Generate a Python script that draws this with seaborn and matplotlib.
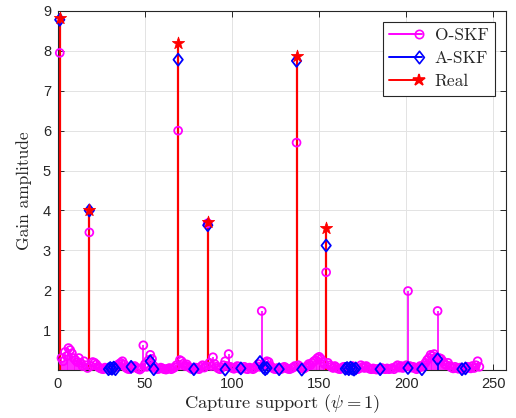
import numpy as np
import matplotlib
matplotlib.use("Agg")
import matplotlib.pyplot as plt
import seaborn as sns
from matplotlib.lines import Line2D
from matplotlib.legend_handler import HandlerBase
from matplotlib.path import Path

# ---- data -------------------------------------------------------------
# O-SKF estimate, one gain per support index (1..242)
o_skf_vals = [
    7.95, 0.30, 0.22, 0.45, 0.35, 0.55, 0.50, 0.42, 0.30, 0.25,
    0.20, 0.30, 0.18, 0.10, 0.22, 0.12, 0.05, 3.45, 0.10, 0.20,
    0.18, 0.14, 0.08, 0.05, 0.03, 0.02, 0.06, 0.04, 0.02, 0.01,
    0.03, 0.05, 0.08, 0.12, 0.15, 0.18, 0.22, 0.14, 0.06, 0.03,
    0.02, 0.04, 0.08, 0.10, 0.06, 0.03, 0.01, 0.05, 0.62, 0.15,
    0.08, 0.25, 0.38, 0.28, 0.10, 0.04, 0.02, 0.03, 0.06, 0.04,
    0.02, 0.01, 0.03, 0.05, 0.02, 0.04, 0.07, 0.12, 6.00, 0.25,
    0.22, 0.16, 0.10, 0.14, 0.08, 0.05, 0.02, 0.03, 0.06, 0.04,
    0.02, 0.08, 0.12, 0.06, 0.10, 3.68, 0.18, 0.10, 0.32, 0.15,
    0.08, 0.04, 0.02, 0.06, 0.12, 0.22, 0.10, 0.40, 0.08, 0.05,
    0.03, 0.06, 0.10, 0.04, 0.02, 0.05, 0.08, 0.03, 0.02, 0.06,
    0.04, 0.02, 0.05, 0.10, 0.15, 0.08, 1.48, 0.12, 0.18, 0.22,
    0.20, 0.10, 0.06, 0.03, 0.02, 0.05, 0.04, 0.02, 0.06, 0.08,
    0.05, 0.03, 0.02, 0.04, 0.06, 0.10, 5.70, 0.12, 0.08, 0.05,
    0.03, 0.06, 0.10, 0.15, 0.12, 0.18, 0.22, 0.25, 0.30, 0.33,
    0.28, 0.20, 0.15, 2.45, 0.18, 0.12, 0.08, 0.05, 0.10, 0.06,
    0.03, 0.02, 0.05, 0.08, 0.04, 0.02, 0.03, 0.06, 0.10, 0.05,
    0.03, 0.02, 0.04, 0.12, 0.08, 0.05, 0.10, 0.06, 0.03, 0.02,
    0.04, 0.02, 0.01, 0.03, 0.02, 0.05, 0.03, 0.02, 0.04, 0.02,
    0.03, 0.05, 0.02, 0.08, 0.12, 0.06, 0.10, 0.05, 0.08, 0.12,
    1.98, 0.10, 0.06, 0.08, 0.04, 0.02, 0.05, 0.10, 0.08, 0.12,
    0.18, 0.25, 0.30, 0.38, 0.35, 0.40, 0.32, 1.48, 0.30, 0.28,
    0.22, 0.15, 0.12, 0.18, 0.10, 0.06, 0.04, 0.08, 0.05, 0.03,
    0.06, 0.04, 0.02, 0.05, 0.08, 0.06, 0.04, 0.10, 0.05, 0.12,
    0.22, 0.08,
]
o_skf_idx = np.arange(1, len(o_skf_vals) + 1)

# A-SKF estimate on its own support set
a_skf_idx = [1, 18, 29, 30, 31, 32, 33, 42, 53, 55, 69, 78, 86, 96, 105,
             116, 118, 119, 120, 127, 137, 140, 154, 165, 166, 167, 168,
             169, 170, 171, 185, 201, 209, 218, 232, 234]
a_skf_vals = [8.78, 4.00, 0.02, 0.05, 0.03, 0.06, 0.02, 0.08, 0.22, 0.02,
              7.78, 0.02, 3.63, 0.01, 0.04, 0.20, 0.06, 0.02, 0.05, 0.02,
              7.75, 0.01, 3.12, 0.03, 0.05, 0.02, 0.06, 0.03, 0.01, 0.04,
              0.02, 0.05, 0.02, 0.27, 0.02, 0.04]

# true channel taps
real_idx = [1, 18, 69, 86, 137, 154]
real_vals = [8.82, 4.00, 8.20, 3.70, 7.88, 3.57]

x_ticks = [0, 50, 100, 150, 200, 250]
y_ticks = [1, 2, 3, 4, 5, 6, 7, 8, 9]
series_names = ["O-SKF", "A-SKF", "Real"]

# ---- style ------------------------------------------------------------
sns.set_theme(style="whitegrid")
plt.rcParams["font.family"] = ["Liberation Sans", "DejaVu Sans"]
plt.rcParams["mathtext.fontset"] = "cm"
plt.rcParams["axes.unicode_minus"] = False

MAG = "#ff00ff"
BLU = "#0000ff"
RED = "#ff0000"
AX = "#262626"
SERIF = ["cmr10", "DejaVu Serif"]

# MATLAB-like diamond (a bit taller than wide)
diamond = Path([(0, 1), (0.78, 0), (0, -1), (-0.78, 0), (0, 1)],
               [Path.MOVETO, Path.LINETO, Path.LINETO, Path.LINETO, Path.CLOSEPOLY])

fig = plt.figure(figsize=(5.16, 4.18), dpi=100)
ax = fig.add_axes([58 / 516, 48 / 418, 447.5 / 516, 359 / 418])
ax.set_facecolor("white")

# stems
ax.vlines(o_skf_idx, 0, o_skf_vals, color=MAG, lw=1.2, zorder=2)
ax.vlines(a_skf_idx, 0, a_skf_vals, color=BLU, lw=1.2, zorder=3)
ax.vlines(real_idx, 0, real_vals, color=RED, lw=1.6, zorder=4)

# stem heads
sns.scatterplot(x=o_skf_idx, y=o_skf_vals, ax=ax, marker="o", s=32,
                facecolors="none", edgecolor=MAG, linewidth=1.3,
                zorder=5, clip_on=False, legend=False)
sns.scatterplot(x=a_skf_idx, y=a_skf_vals, ax=ax, marker=diamond, s=75,
                facecolors="none", edgecolor=BLU, linewidth=1.3,
                zorder=6, clip_on=False, legend=False)
sns.scatterplot(x=real_idx, y=real_vals, ax=ax, marker="*", s=85,
                color=RED, edgecolor=RED, linewidth=0.6,
                zorder=7, clip_on=False, legend=False)

# axes
ax.set_xlim(0, 257)
ax.set_ylim(0, 9)
ax.set_xticks(x_ticks)
ax.set_yticks(y_ticks)
ax.grid(True, color="#e3e3e3", lw=0.7)
ax.set_axisbelow(True)
for sp in ax.spines.values():
    sp.set_color(AX)
    sp.set_linewidth(0.8)
    sp.set_zorder(4.5)
ax.tick_params(direction="in", length=4, width=0.7, color=AX,
               top=True, right=True, bottom=True, left=True,
               labelsize=10.5, labelcolor=AX, pad=5)

ax.set_xlabel(r"Capture support $(\psi = 1)$", family=SERIF, fontsize=13.3,
              color=AX, labelpad=1)
ax.set_ylabel("Gain amplitude", family=SERIF, fontsize=12.5, color=AX,
              labelpad=8)


# legend entries: line with the marker at its right end, like a stem
class StemHandler(HandlerBase):
    def create_artists(self, legend, orig, xdescent, ydescent, width,
                       height, fontsize, trans):
        y = height / 2 - ydescent
        line = Line2D([-xdescent, width - xdescent], [y, y],
                      color=orig.get_color(), lw=1.4)
        mk = Line2D([width - xdescent - 2], [y], marker=orig.get_marker(),
                    markersize=orig.get_markersize(),
                    markerfacecolor=orig.get_markerfacecolor(),
                    markeredgecolor=orig.get_markeredgecolor(),
                    markeredgewidth=1.2, linestyle="none")
        line.set_transform(trans)
        mk.set_transform(trans)
        return [line, mk]


handles = [
    Line2D([], [], color=MAG, marker="o", markersize=6,
           markerfacecolor="none", markeredgecolor=MAG),
    Line2D([], [], color=BLU, marker=diamond, markersize=9,
           markerfacecolor="none", markeredgecolor=BLU),
    Line2D([], [], color=RED, marker="*", markersize=9,
           markerfacecolor=RED, markeredgecolor=RED),
]
leg = ax.legend(handles, series_names, loc="upper right",
                bbox_to_anchor=(0.976, 0.970), borderaxespad=0,
                handler_map={Line2D: StemHandler()}, handlelength=1.9,
                handletextpad=0.75, labelspacing=0.45, borderpad=0.35,
                fancybox=False, framealpha=1, edgecolor=AX,
                prop={"family": SERIF, "size": 12.5})
leg.get_frame().set_linewidth(0.8)
leg.set_zorder(10)

fig.savefig("out.png", dpi=100, facecolor="white")
